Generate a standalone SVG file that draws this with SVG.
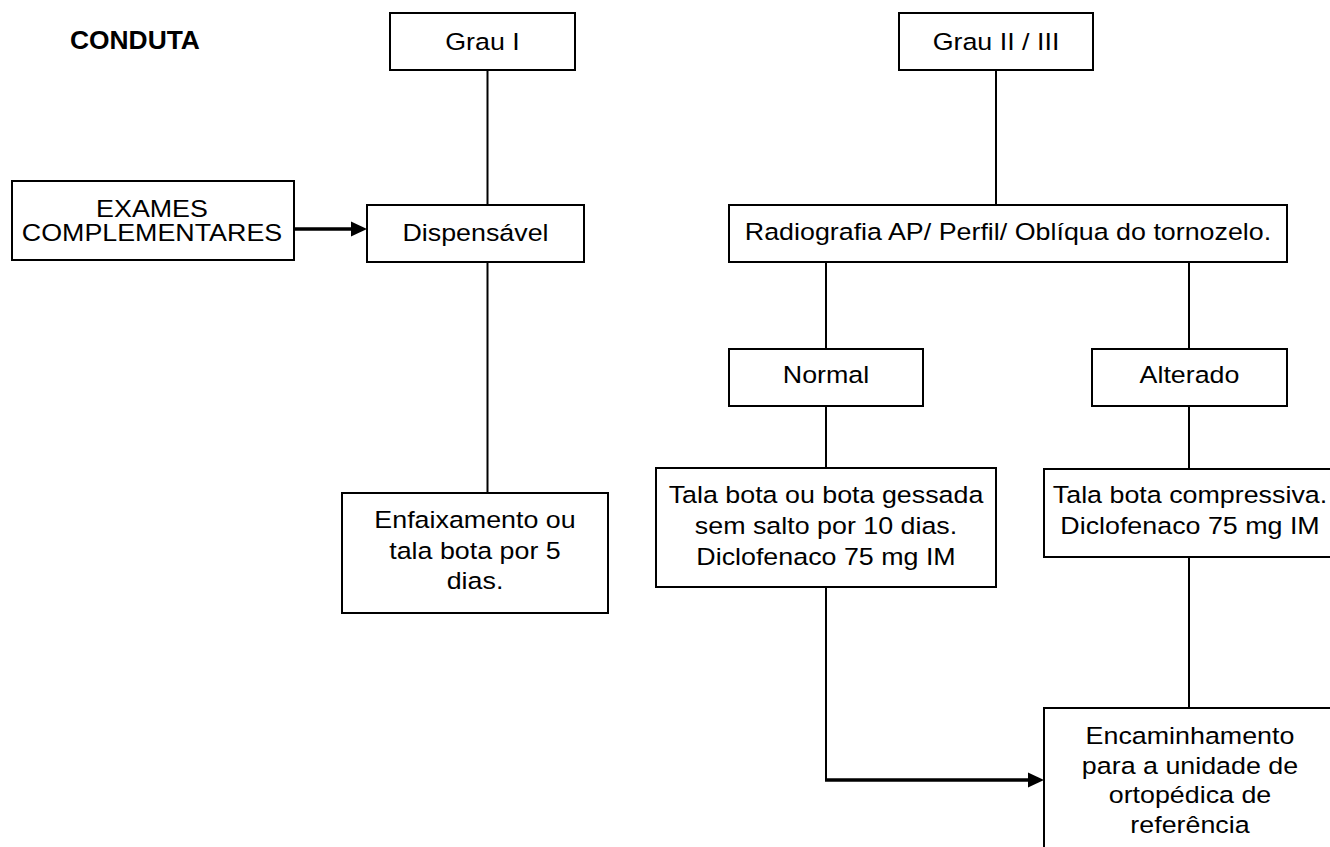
<svg xmlns="http://www.w3.org/2000/svg" width="1330" height="847" viewBox="0 0 1330 847">
<style>
.box{fill:#fff;stroke:#000;stroke-width:2}
.ln{fill:none;stroke:#000;stroke-width:2}
.thick{fill:none;stroke:#000;stroke-width:3.5}
.t{font-family:"Liberation Sans",Arial,sans-serif;font-size:24.5px;fill:#000;text-anchor:middle}
.b{font-family:"Liberation Sans",Arial,sans-serif;font-size:25px;font-weight:bold;fill:#000}
</style>
<rect width="1330" height="847" fill="#fff"/>
<g id="connectors">
<line class="ln" x1="487.5" y1="70" x2="487.5" y2="205"/>
<line class="ln" x1="487.5" y1="262" x2="487.5" y2="493"/>
<line class="ln" x1="996" y1="70" x2="996" y2="205"/>
<line class="ln" x1="826" y1="262" x2="826" y2="349"/>
<line class="ln" x1="1189" y1="262" x2="1189" y2="349"/>
<line class="ln" x1="826" y1="406" x2="826" y2="468"/>
<line class="ln" x1="1189" y1="406" x2="1189" y2="469"/>
<line class="ln" x1="1189" y1="557" x2="1189" y2="708"/>
<line class="ln" x1="826" y1="587" x2="826" y2="781"/>
<line class="thick" x1="294" y1="229" x2="352" y2="229"/>
<polygon points="351,221.5 367,229 351,236.5" fill="#000"/>
<line class="thick" x1="825" y1="780" x2="1029" y2="780"/>
<polygon points="1028,772.5 1044,780 1028,787.5" fill="#000"/>
</g>
<g id="title"><text class="b" transform="translate(70,49) scale(1.056,1)">CONDUTA</text></g>
<g id="grau1"><rect class="box" x="390" y="13" width="185" height="57"/><text class="t" transform="translate(482.5,50) scale(1.095,1)">Grau I</text></g>
<g id="grau23"><rect class="box" x="899" y="13" width="194" height="57"/><text class="t" transform="translate(996,50) scale(1.095,1)">Grau II / III</text></g>
<g id="exames"><rect class="box" x="12" y="181" width="282" height="79"/>
<text class="t" transform="translate(152,217) scale(1.095,1)">EXAMES</text>
<text class="t" transform="translate(152,241) scale(1.095,1)">COMPLEMENTARES</text></g>
<g id="dispensavel"><rect class="box" x="367" y="205" width="217" height="57"/><text class="t" transform="translate(475.5,241) scale(1.095,1)">Dispensável</text></g>
<g id="radiografia"><rect class="box" x="729" y="205" width="558" height="57"/><text class="t" transform="translate(1008,240) scale(1.095,1)">Radiografia AP/ Perfil/ Oblíqua do tornozelo.</text></g>
<g id="normal"><rect class="box" x="729" y="349" width="194" height="57"/><text class="t" transform="translate(826,383) scale(1.095,1)">Normal</text></g>
<g id="alterado"><rect class="box" x="1092" y="349" width="195" height="57"/><text class="t" transform="translate(1189.5,383) scale(1.095,1)">Alterado</text></g>
<g id="enfaixamento"><rect class="box" x="342" y="493" width="266" height="120"/>
<text class="t" transform="translate(475,528) scale(1.095,1)">Enfaixamento ou</text>
<text class="t" transform="translate(475,559) scale(1.095,1)">tala bota por 5</text>
<text class="t" transform="translate(475,589) scale(1.095,1)">dias.</text></g>
<g id="tala-gessada"><rect class="box" x="656" y="468" width="340" height="119"/>
<text class="t" transform="translate(826,503) scale(1.095,1)">Tala bota ou bota gessada</text>
<text class="t" transform="translate(826,534) scale(1.095,1)">sem salto por 10 dias.</text>
<text class="t" transform="translate(826,565) scale(1.095,1)">Diclofenaco 75 mg IM</text></g>
<g id="tala-compressiva"><rect class="box" x="1044" y="469" width="294" height="88"/>
<text class="t" transform="translate(1190,503) scale(1.095,1)">Tala bota compressiva.</text>
<text class="t" transform="translate(1190,534) scale(1.095,1)">Diclofenaco 75 mg IM</text></g>
<g id="encaminhamento"><rect class="box" x="1044" y="708" width="294" height="150"/>
<text class="t" transform="translate(1190,744) scale(1.095,1)">Encaminhamento</text>
<text class="t" transform="translate(1190,774) scale(1.095,1)">para a unidade de</text>
<text class="t" transform="translate(1190,803) scale(1.095,1)">ortopédica de</text>
<text class="t" transform="translate(1190,833) scale(1.095,1)">referência</text></g>
</svg>
